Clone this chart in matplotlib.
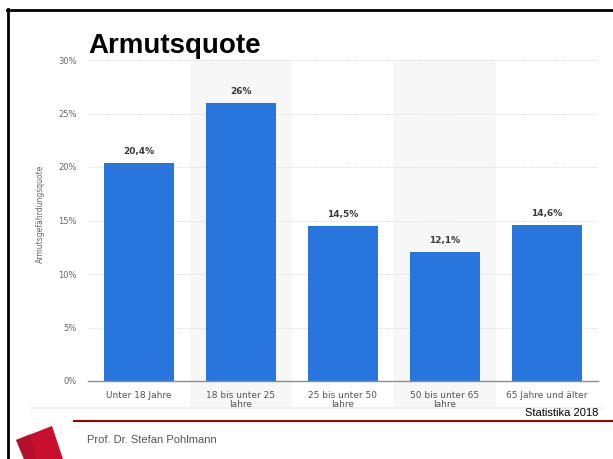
import matplotlib.pyplot as plt
from matplotlib.patches import Polygon, Rectangle
from matplotlib.lines import Line2D

categories = ["Unter 18 Jahre", "18 bis unter 25\nJahre", "25 bis unter 50\nJahre",
              "50 bis unter 65\nJahre", "65 Jahre und älter"]
values = [20.4, 26, 14.5, 12.1, 14.6]
value_labels = ["20,4%", "26%", "14,5%", "12,1%", "14,6%"]
yticks = [0, 5, 10, 15, 20, 25, 30]
ytick_labels = ["0%", "5%", "10%", "15%", "20%", "25%", "30%"]

W, H = 613, 459
fig = plt.figure(figsize=(W / 100, H / 100), dpi=100)

def fx(px):
    return px / W

def fy(py):
    return 1 - py / H

# slide frame
fig.add_artist(Line2D([fx(8), fx(8)], [fy(9), 0], color="black", lw=2))
fig.add_artist(Line2D([fx(7), 1], [fy(9.5), fy(9.5)], color="black", lw=2))

ax = fig.add_axes([fx(88), fy(381), fx(598 - 88), (381 - 60) / H])
x = list(range(len(categories)))

# alternating shaded columns
for i in (1, 3):
    ax.axvspan(i - 0.5, i + 0.5, ymin=-0.082, ymax=1, color="#f7f7f7",
               zorder=0, clip_on=False, lw=0)

for y in yticks[1:]:
    ax.axhline(y, color="#d9d9d9", lw=0.7, ls=(0, (1, 1)), zorder=1)

ax.bar(x, values, width=0.68, color="#2876dd", zorder=2)
for xi, v, lab in zip(x, values, value_labels):
    ax.text(xi, v + 0.6, lab, ha="center", va="bottom", fontsize=6.5,
            color="#3a3a3a", fontweight="bold", family="DejaVu Sans")

ax.set_xlim(-0.5, len(categories) - 0.5)
ax.set_ylim(0, 30)
ax.set_yticks(yticks)
ax.set_yticklabels(ytick_labels, fontsize=6, color="#666666")
ax.set_xticks(x)
ax.set_xticklabels(categories, fontsize=6.5, color="#555555", linespacing=1.1)
ax.tick_params(length=0, pad=8)
ax.tick_params(axis="x", pad=7)
for s in ["top", "right", "left"]:
    ax.spines[s].set_visible(False)
ax.spines["bottom"].set_color("#8c8c8c")
ax.spines["bottom"].set_linewidth(1)
ax.set_facecolor("none")
ax.set_ylabel("Armutsgefährdungsquote", fontsize=5.5, color="#666666", labelpad=4)
ax.yaxis.set_label_coords(fx(45 - 88) / fx(510), 0.52)

# strip at bottom of the screenshot
fig.add_artist(Rectangle((fx(30), fy(409)), fx(603 - 30), 2 / H, color="#f0f0f0", lw=0))

fig.text(fx(88), fy(46), "Armutsquote", fontsize=20, fontweight="bold",
         family="Liberation Sans", va="center", ha="left")
fig.text(fx(598), fy(413), "Statistika 2018", fontsize=8, family="Liberation Sans",
         va="center", ha="right", color="black")
fig.add_artist(Line2D([fx(74), 1], [fy(421), fy(421)], color="#a00000", lw=1.5))
fig.text(fx(87), fy(440), "Prof. Dr. Stefan Pohlmann", fontsize=8,
         family="Liberation Sans", va="center", ha="left", color="#555555")

# logo
fig.add_artist(Polygon([(fx(16), fy(440)), (fx(52), fy(426)), (fx(63), fy(459)),
                        (fx(24), fy(459))], closed=True, color="#c8102e", lw=0))
fig.add_artist(Polygon([(fx(16), fy(440)), (fx(30), fy(434)), (fx(36), fy(459)),
                        (fx(24), fy(459))], closed=True, color="#a8102a", lw=0, alpha=0.6))

fig.savefig("out.png", dpi=100)
